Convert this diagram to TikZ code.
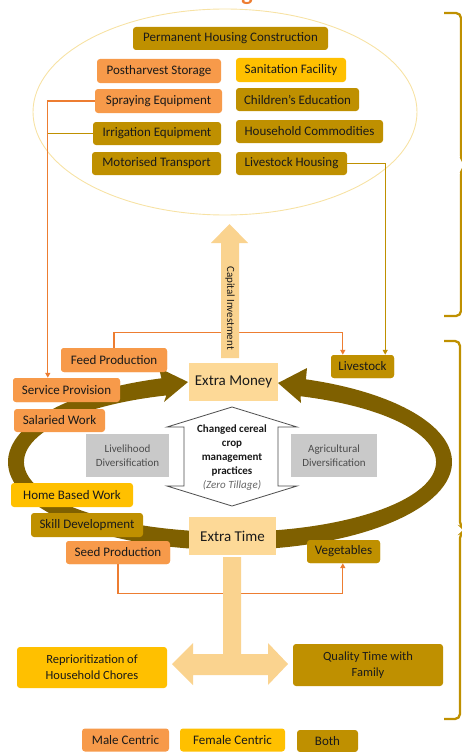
\documentclass[tikz,border=0pt]{standalone}
\usepackage{fontspec}
\setmainfont{Carlito}
\usetikzlibrary{arrows.meta,calc}
\definecolor{cOr}{HTML}{F79A4A}
\definecolor{cYe}{HTML}{FFC000}
\definecolor{cGo}{HTML}{BF9000}
\definecolor{cLt}{HTML}{FDD997}
\definecolor{cArr}{HTML}{FAD38F}
\definecolor{cLine}{HTML}{ED7D31}
\definecolor{cBand}{HTML}{7F6000}
\definecolor{cGrey}{HTML}{C9C9C9}
\definecolor{cEll}{HTML}{F7E2A4}
\definecolor{cTxt}{HTML}{1A1A1A}
\begin{document}
\begin{tikzpicture}[x=1pt,y=-1pt,
  box/.style={rounded corners=3pt, inner sep=0pt, align=center, text=cTxt, font=\fontsize{13}{15}\selectfont},
  sz/.style 2 args={minimum width=#1pt, minimum height=#2pt},
  male/.style={box, fill=cOr},
  fem/.style={box, fill=cYe},
  bothc/.style={box, fill=cGo},
  core/.style={box, rounded corners=0pt, fill=cLt, font=\fontsize{15}{17}\selectfont},
  greybox/.style={inner sep=0pt, align=center, fill=cGrey, text=black!70, font=\fontsize{11}{14}\selectfont},
  oline/.style={draw=cLine, line width=1.3pt},
  gline/.style={draw=cGo, line width=1.3pt},
  tip/.style={-{Triangle[width=5pt,length=5pt]}},
  brace/.style={draw=cGo, line width=2.3pt, rounded corners=5pt}
]
\useasboundingbox (0,0) rectangle (462,752);

% title fragment
\node[text=cLine, font=\fontsize{24}{24}\selectfont\bfseries, anchor=base, inner sep=0pt] (ttl) at (247,0.5) {g};

% ellipse
\draw[cEll, line width=0.9pt] (225,112) ellipse [x radius=192, y radius=103];

% top boxes
\node[bothc, sz={195}{23}] (perm) at (230.5,38.5) {Permanent Housing Construction};
\node[male, sz={124}{24}] (post) at (159,71) {Postharvest Storage};
\node[fem, sz={110}{24}] (sanit) at (291,70) {Sanitation Facility};
\node[male, sz={127}{24}] (spray) at (158.5,101) {Spraying Equipment};
\node[bothc, sz={123}{23}] (child) at (297.5,99.5) {Children’s Education};
\node[bothc, sz={128}{23}] (irrig) at (157,133.5) {Irrigation Equipment};
\node[bothc, sz={147}{23}] (hhc) at (309.5,131.5) {Household Commodities};
\node[bothc, sz={129}{23}] (motor) at (156.5,163.5) {Motorised Transport};
\node[bothc, sz={111}{23}] (lsh) at (291.5,163.5) {Livestock Housing};

% middle boxes (positions needed for connectors)
\node[male, sz={106}{24}] (feed) at (114,360) {Feed Production};
\node[bothc, sz={63}{23}] (livestock) at (362.5,366.5) {Livestock};
\node[male, sz={107}{24}] (service) at (66.5,390) {Service Provision};
\node[male, sz={104}{23}] (seed) at (118,552.5) {Seed Production};
\node[bothc, sz={73}{23}] (veg) at (343.5,551.5) {Vegetables};

% connectors
\coordinate (vl) at ([xshift=35pt]service.north west);
\draw[oline, tip] (spray.west) -| (vl);
\draw[gline] (irrig.west) -- (vl |- irrig.west);
\draw[gline, tip] (lsh.east) -| ([xshift=-9pt]livestock.north east);
\draw[oline, tip] (feed.north) -- ++(0,-15) -| ([xshift=12pt]livestock.north west);
\draw[oline, tip] (seed.south) -- ++(0,29) -| ([xshift=36pt]veg.south west);

% capital investment arrow
\fill[cArr] (221,358) -- (221,243) -- (211,243) -- (229.5,224) -- (248,243) -- (239,243) -- (239,358) -- cycle;
\node[rotate=-90, text=cTxt, font=\fontsize{11}{13}\selectfont, inner sep=0pt] (capinv) at (230,308) {Capital Investment};

% bottom T arrow
\fill[cArr] (223,557) -- (241,557) -- (241,654) -- (268,654) -- (268,643) -- (288,664) -- (268,685) -- (268,675)
  -- (193,675) -- (193,685) -- (172,664) -- (193,643) -- (193,654) -- (223,654) -- cycle;

% cycle band
\coordinate (rc) at (230,462);
\fill[cBand] ($(rc)+(80:222 and 88)$) arc[start angle=80,end angle=-70,x radius=222,y radius=88]
  -- (307,368) -- (278,383) -- (301,403)
  -- ($(rc)+(-70:206 and 70)$) arc[start angle=-70,end angle=80,x radius=206,y radius=70] -- cycle;
\fill[cBand] ($(rc)+(100:222 and 88)$) arc[start angle=100,end angle=252,x radius=222,y radius=88]
  -- (159,368) -- (188,382) -- (164,402)
  -- ($(rc)+(252:206 and 70)$) arc[start angle=252,end angle=100,x radius=206,y radius=70] -- cycle;

% redraw boxes above band
\node[male, sz={106}{24}] at (feed) {Feed Production};
\node[bothc, sz={63}{23}] at (livestock) {Livestock};
\node[male, sz={107}{24}] at (service) {Service Provision};
\node[male, sz={104}{23}] at (seed) {Seed Production};
\node[bothc, sz={73}{23}] at (veg) {Vegetables};

\node[core, sz={89}{38}] (money) at (233.5,382) {Extra Money};
\node[core, sz={87}{38}] (time) at (232.5,536) {Extra Time};
\node[male, sz={91}{23}] (salaried) at (59.5,420.5) {Salaried Work};
\node[fem, sz={122}{24}] (home) at (72,495) {Home Based Work};
\node[bothc, sz={112}{24}] (skill) at (87,525) {Skill Development};

\node[greybox, sz={83}{43}] (livediv) at (127.5,455.5) {Livelihood\\Diversification};
\node[greybox, sz={86}{43}] (agrdiv) at (334,455.5) {Agricultural\\Diversification};

% central double arrow
\draw[fill=white, draw=black!70, line width=0.8pt] (232,407) -- (297,427) -- (278,427) -- (278,486) -- (297,486)
  -- (232,506) -- (167,486) -- (184,486) -- (184,427) -- (167,427) -- cycle;
\node[align=center, inner sep=0pt, text=cTxt, font=\fontsize{11}{14}\selectfont\bfseries] (cct) at (232,458)
  {Changed cereal\\crop\\management\\practices\\{\mdseries\itshape\color{black!60}(Zero Tillage)}};

% bottom boxes
\node[fem, sz={150}{41}, font=\fontsize{12.5}{16}\selectfont] (reprio) at (92,667.5) {Reprioritization of\\Household Chores};
\node[bothc, sz={150}{42}, font=\fontsize{12.5}{16}\selectfont] (quality) at (368,665) {Quality Time with\\Family};

% legend
\node[male, sz={87}{23}] (lmale) at (125.5,740) {Male Centric};
\node[fem, sz={105}{23}] (lfem) at (232.5,740) {Female Centric};
\node[bothc, sz={61}{22}] (lboth) at (327.5,741) {Both};

% right braces
\draw[brace] (444,13) -- (461,13) -- (461,160) -- (467,165) -- (461,170) -- (461,316) -- (444,316);
\draw[brace] (444,341) -- (460,341) -- (460,527) -- (467,530) -- (460,533) -- (460,719) -- (444,719);
\end{tikzpicture}
\end{document}
